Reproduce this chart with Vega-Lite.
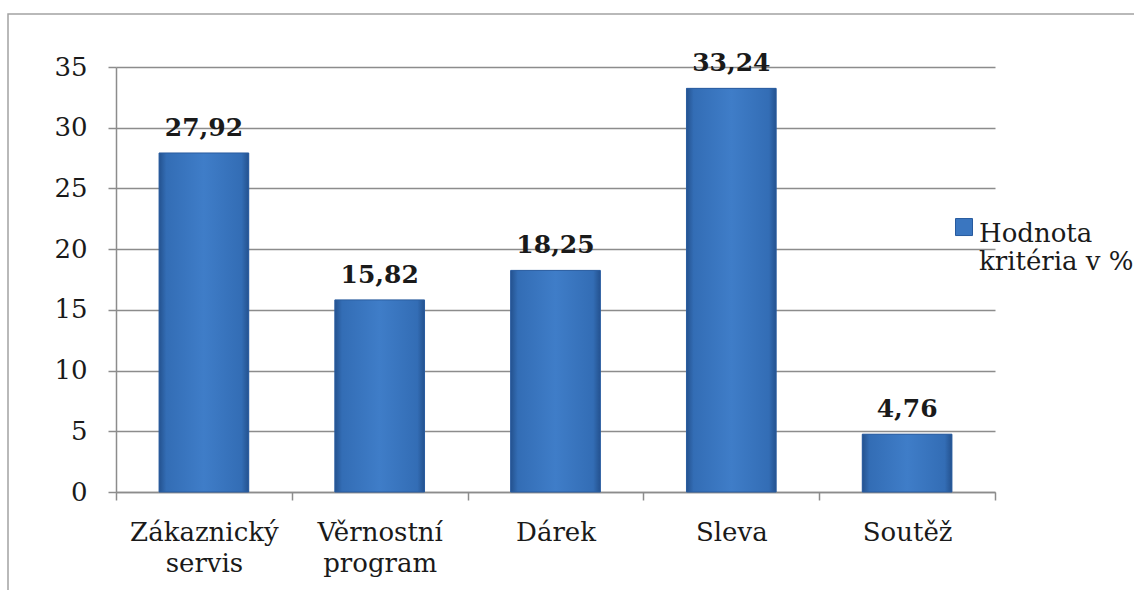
{
  "$schema": "https://vega.github.io/schema/vega-lite/v6.json",
  "width": 1136,
  "height": 586,
  "autosize": {"type": "none"},
  "padding": {"left": 8, "top": 14, "right": -10, "bottom": -10},
  "background": "white",
  "config": {
    "view": {"stroke": "#a3a3a3", "strokeWidth": 1.5},
    "locale": {
      "number": {"decimal": ",", "thousands": " ", "grouping": [3], "currency": ["", " Kč"]}
    }
  },
  "data": {
    "values": [
      {"kriterium": "Zákaznický servis", "hodnota": 27.92, "rada": "Hodnota kritéria v %"},
      {"kriterium": "Věrnostní program", "hodnota": 15.82, "rada": "Hodnota kritéria v %"},
      {"kriterium": "Dárek", "hodnota": 18.25, "rada": "Hodnota kritéria v %"},
      {"kriterium": "Sleva", "hodnota": 33.24, "rada": "Hodnota kritéria v %"},
      {"kriterium": "Soutěž", "hodnota": 4.76, "rada": "Hodnota kritéria v %"}
    ]
  },
  "encoding": {
    "x": {
      "field": "kriterium",
      "type": "nominal",
      "sort": null,
      "scale": {"range": [108, 987], "paddingInner": 0, "paddingOuter": 0},
      "axis": {
        "title": null,
        "orient": "bottom",
        "offset": -108,
        "grid": false,
        "tickBand": "extent",
        "tickSize": 8,
        "tickColor": "#8c8c8c",
        "tickWidth": 1.5,
        "domainColor": "#8c8c8c",
        "domainWidth": 1.5,
        "labelAngle": 0,
        "labelFont": "DejaVu Serif",
        "labelFontSize": 26,
        "labelColor": "#1a1a1a",
        "labelPadding": 19,
        "labelLineHeight": 31,
        "labelExpr": "split(datum.label, ' ')"
      }
    },
    "y": {
      "field": "hodnota",
      "type": "quantitative",
      "scale": {"domain": [0, 35], "range": [478, 53], "nice": false, "zero": true},
      "axis": {
        "title": null,
        "orient": "left",
        "offset": -108,
        "values": [0, 5, 10, 15, 20, 25, 30, 35],
        "grid": true,
        "gridColor": "#8c8c8c",
        "gridWidth": 1.5,
        "tickSize": 8,
        "tickColor": "#8c8c8c",
        "tickWidth": 1.5,
        "domainColor": "#8c8c8c",
        "domainWidth": 1.5,
        "labelFont": "DejaVu Serif",
        "labelFontSize": 26,
        "labelColor": "#1a1a1a",
        "labelPadding": 21
      }
    }
  },
  "layer": [
    {
      "mark": {"type": "bar", "width": {"band": 0.51}},
      "encoding": {
        "color": {
          "field": "rada",
          "type": "nominal",
          "scale": {"range": ["#3a76c0"]},
          "legend": {
            "title": null,
            "orient": "none",
            "legendX": 943,
            "legendY": 194,
            "padding": 0,
            "symbolType": "M-1,-0.29L1,-0.29L1,1.71L-1,1.71Z",
            "symbolSize": 289,
            "symbolStrokeColor": "#275a9e",
            "symbolStrokeWidth": 1,
            "labelFont": "DejaVu Serif",
            "labelFontSize": 26,
            "labelColor": "#1a1a1a",
            "labelLimit": 0,
            "labelOffset": 2,
            "labelBaseline": "top",
            "labelExpr": "['Hodnota', 'kritéria v %']"
          }
        }
      }
    },
    {
      "mark": {
        "type": "bar",
        "width": {"band": 0.51},
        "stroke": "#2a5c9f",
        "strokeWidth": 1,
        "fill": {
          "gradient": "linear",
          "x1": 0, "y1": 0, "x2": 1, "y2": 0,
          "stops": [
            {"offset": 0, "color": "#24528f"},
            {"offset": 0.08, "color": "#336db5"},
            {"offset": 0.5, "color": "#3f7dc8"},
            {"offset": 0.92, "color": "#336db5"},
            {"offset": 1, "color": "#24528f"}
          ]
        }
      }
    },
    {
      "mark": {
        "type": "text",
        "baseline": "alphabetic",
        "align": "center",
        "dy": -17,
        "font": "DejaVu Serif",
        "fontSize": 25,
        "fontWeight": "bold",
        "color": "#1a1a1a"
      },
      "encoding": {
        "text": {"field": "hodnota", "type": "quantitative", "format": ".2f"}
      }
    }
  ]
}
